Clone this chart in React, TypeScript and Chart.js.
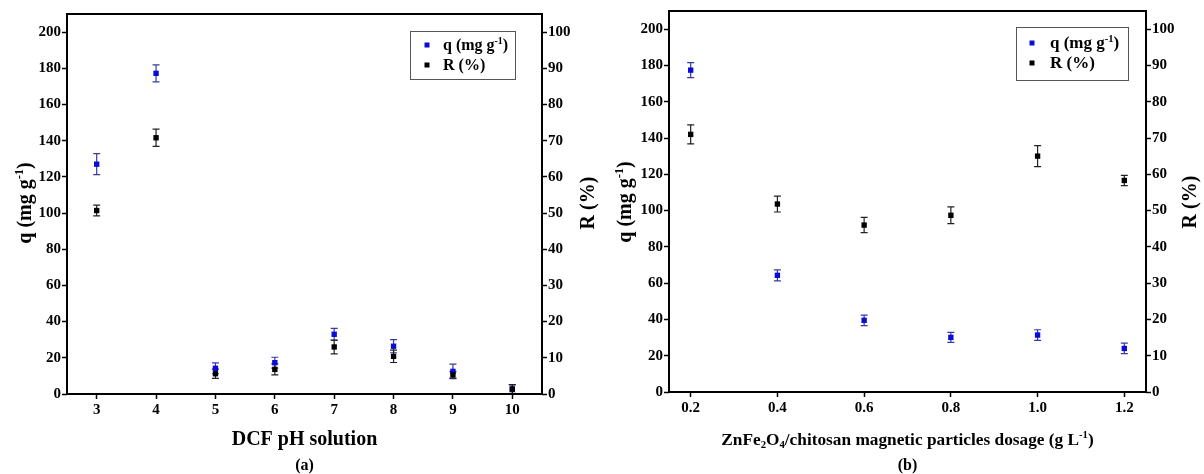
import { useEffect, useRef } from "react";
import { Chart, registerables } from "chart.js";

Chart.register(...registerables);

const FONT = "'Liberation Serif', 'Times New Roman', serif";
const BLUE = "#0b0bd6";
const BLUE_ERR = "#3a3a9e";
const BLACK = "#000000";
const BLACK_ERR = "#222222";

// Panel (a): DCF pH solution
const phValues = [3, 4, 5, 6, 7, 8, 9, 10];
const phQ = [127, 177.2, 14.2, 17.3, 33, 26.4, 12.5, 2.6];
const phQErr = [5.8, 4.7, 3, 3, 3.3, 3.6, 4, 2.4];
const phR = [50.7, 70.8, 5.6, 6.8, 13, 10.4, 5.3, 1.4];
const phRErr = [1.5, 2.4, 1.3, 1.5, 1.9, 1.7, 0.9, 1.2];
const phTicks = [3, 4, 5, 6, 7, 8, 9, 10];

// Panel (b): adsorbent dosage
const doseValues = [0.2, 0.4, 0.6, 0.8, 1.0, 1.2];
const doseQ = [177.4, 64.3, 39.5, 30.1, 31.4, 24];
const doseQErr = [4.1, 3, 2.9, 2.8, 2.9, 2.9];
const doseR = [71, 51.8, 46, 48.7, 65, 58.3];
const doseRErr = [2.6, 2.2, 2.1, 2.3, 2.9, 1.4];
const doseTicks = [0.2, 0.4, 0.6, 0.8, 1.0, 1.2];

// Shared value axes
const qTicks = [0, 20, 40, 60, 80, 100, 120, 140, 160, 180, 200];
const rTicks = [0, 10, 20, 30, 40, 50, 60, 70, 80, 90, 100];

type Seg = { t: string; k?: "sup" | "sub" };

const qTitle: Seg[] = [{ t: "q (mg g" }, { t: "-1", k: "sup" }, { t: ")" }];
const rTitle: Seg[] = [{ t: "R (%)" }];
const phTitle: Seg[] = [{ t: "DCF pH solution" }];
const doseTitle: Seg[] = [
  { t: "ZnFe" },
  { t: "2", k: "sub" },
  { t: "O" },
  { t: "4", k: "sub" },
  { t: "/chitosan magnetic particles dosage (g L" },
  { t: "-1", k: "sup" },
  { t: ")" },
];

const bold = (size: number) => `bold ${size}px ${FONT}`;

// Draws a run of text with super/subscripts, centred horizontally on the anchor.
// `base` is the offset from the anchor to the baseline in the text's own frame.
function drawRich(
  ctx: CanvasRenderingContext2D,
  segs: Seg[],
  cx: number,
  cy: number,
  fs: number,
  rot: number,
  base: number,
  align: "center" | "left" = "center"
) {
  ctx.save();
  ctx.translate(cx, cy);
  ctx.rotate(rot);
  ctx.fillStyle = "#000";
  ctx.textBaseline = "alphabetic";
  ctx.textAlign = "left";
  const sizes = segs.map((s) => (s.k ? fs * 0.62 : fs));
  const widths = segs.map((s, i) => {
    ctx.font = bold(sizes[i]);
    return ctx.measureText(s.t).width;
  });
  const total = widths.reduce((a, b) => a + b, 0);
  let x = align === "center" ? -total / 2 : 0;
  segs.forEach((s, i) => {
    ctx.font = bold(sizes[i]);
    const dy = s.k === "sup" ? -fs * 0.4 : s.k === "sub" ? fs * 0.2 : 0;
    ctx.fillText(s.t, x, base + dy);
    x += widths[i];
  });
  ctx.restore();
}

type PanelSpec = {
  key: string;
  x: number[];
  q: number[];
  qErr: number[];
  r: number[];
  rErr: number[];
  xTicks: number[];
  xMin: number;
  xMax: number;
  xFmt: (v: number) => string;
  width: number;
  top: number;
  leftW: number;
  rightW: number;
  xH: number;
  xTitle: Seg[];
  xTitleSize: number;
  tag: string;
  qTitleX: number;
  rTitleX: number;
  titleY: number;
  legend: { left: number; top: number; w: number; h: number; mx: number; tx: number; rows: number[]; fs: number };
};

function panelPlugin(p: PanelSpec) {
  return {
    id: "panelDecor_" + p.key,
    beforeDatasetsDraw(chart: any) {
      const ctx: CanvasRenderingContext2D = chart.ctx;
      chart.data.datasets.forEach((ds: any) => {
        const ys = chart.scales[ds.yAxisID];
        const xs = chart.scales.x;
        ctx.save();
        ctx.strokeStyle = ds.errorColor;
        ctx.lineWidth = 1.2;
        ds.data.forEach((pt: any, i: number) => {
          const e = ds.errorBars[i];
          const px = xs.getPixelForValue(pt.x);
          const y1 = ys.getPixelForValue(pt.y + e);
          const y2 = ys.getPixelForValue(pt.y - e);
          ctx.beginPath();
          ctx.moveTo(px, y1);
          ctx.lineTo(px, y2);
          ctx.moveTo(px - 3.5, y1);
          ctx.lineTo(px + 3.5, y1);
          ctx.moveTo(px - 3.5, y2);
          ctx.lineTo(px + 3.5, y2);
          ctx.stroke();
        });
        ctx.restore();
      });
    },
    afterDraw(chart: any) {
      const ctx: CanvasRenderingContext2D = chart.ctx;
      const a = chart.chartArea;
      // plot frame
      ctx.save();
      ctx.strokeStyle = "#000";
      ctx.lineWidth = 2;
      ctx.strokeRect(a.left, a.top, a.right - a.left, a.bottom - a.top);
      ctx.restore();

      // legend
      const L = p.legend;
      ctx.save();
      ctx.fillStyle = "#fff";
      ctx.fillRect(L.left, L.top, L.w, L.h);
      ctx.strokeStyle = "#555";
      ctx.lineWidth = 1;
      ctx.strokeRect(L.left + 0.5, L.top + 0.5, L.w, L.h);
      const entries = [chart.data.datasets[0], chart.data.datasets[1]];
      const labels: Seg[][] = [qTitle, rTitle];
      entries.forEach((ds: any, i: number) => {
        const cy = L.top + L.rows[i];
        ctx.fillStyle = ds.backgroundColor;
        ctx.fillRect(L.left + L.mx - 2.5, cy - 2.5, 5, 5);
        drawRich(ctx, labels[i], L.left + L.tx, cy, L.fs, 0, L.fs * 0.32, "left");
      });
      ctx.restore();

      // axis titles
      const cx = (a.left + a.right) / 2;
      drawRich(ctx, qTitle, p.qTitleX, p.titleY, 20, -Math.PI / 2, 20 * 0.32);
      drawRich(ctx, rTitle, p.rTitleX, p.titleY, 20, -Math.PI / 2, 20 * 0.32);
      drawRich(ctx, p.xTitle, cx, 445, p.xTitleSize, 0, 0);
      drawRich(ctx, [{ t: p.tag }], cx, 470, 16, 0, 0);
    },
  };
}

function buildConfig(p: PanelSpec): any {
  const tickFont = { family: FONT, size: 15, weight: "bold" as const };
  const grid = {
    drawOnChartArea: false,
    drawTicks: true,
    tickLength: 5,
    tickWidth: 1.5,
    tickColor: "#000",
  };
  return {
    type: "scatter",
    data: {
      datasets: [
        {
          label: "q (mg g-1)",
          data: p.x.map((v, i) => ({ x: v, y: p.q[i] })),
          yAxisID: "y",
          pointStyle: "rect",
          pointRadius: 3.8,
          backgroundColor: BLUE,
          borderColor: BLUE,
          borderWidth: 0,
          errorBars: p.qErr,
          errorColor: BLUE_ERR,
          order: 1,
        },
        {
          label: "R (%)",
          data: p.x.map((v, i) => ({ x: v, y: p.r[i] })),
          yAxisID: "y2",
          pointStyle: "rect",
          pointRadius: 3.8,
          backgroundColor: BLACK,
          borderColor: BLACK,
          borderWidth: 0,
          errorBars: p.rErr,
          errorColor: BLACK_ERR,
          order: 0,
        },
      ],
    },
    options: {
      animation: false,
      responsive: false,
      maintainAspectRatio: false,
      layout: { padding: { top: p.top, left: 0, right: 0, bottom: 0 } },
      plugins: { legend: { display: false }, tooltip: { enabled: false } },
      scales: {
        x: {
          type: "linear",
          position: "bottom",
          min: p.xMin,
          max: p.xMax,
          afterBuildTicks: (s: any) => {
            s.ticks = p.xTicks.map((v) => ({ value: v }));
          },
          afterFit: (s: any) => {
            s.height = p.xH;
          },
          ticks: {
            callback: (v: any) => p.xFmt(Number(v)),
            font: tickFont,
            color: "#000",
            padding: 2,
            maxRotation: 0,
            autoSkip: false,
          },
          grid,
          border: { display: false },
        },
        y: {
          type: "linear",
          position: "left",
          min: 0,
          max: 210,
          afterBuildTicks: (s: any) => {
            s.ticks = qTicks.map((v) => ({ value: v }));
          },
          afterFit: (s: any) => {
            s.width = p.leftW;
          },
          ticks: { font: tickFont, color: "#000", padding: 1, autoSkip: false },
          grid,
          border: { display: false },
        },
        y2: {
          type: "linear",
          position: "right",
          min: 0,
          max: 105,
          afterBuildTicks: (s: any) => {
            s.ticks = rTicks.map((v) => ({ value: v }));
          },
          afterFit: (s: any) => {
            s.width = p.rightW;
          },
          ticks: { font: tickFont, color: "#000", padding: 1, autoSkip: false },
          grid,
          border: { display: false },
        },
      },
    },
    plugins: [panelPlugin(p)],
  };
}

const panelA: PanelSpec = {
  key: "a",
  x: phValues,
  q: phQ,
  qErr: phQErr,
  r: phR,
  rErr: phRErr,
  xTicks: phTicks,
  xMin: 2.5,
  xMax: 10.5,
  xFmt: (v) => String(v),
  width: 604,
  top: 14,
  leftW: 67,
  rightW: 62,
  xH: 80,
  xTitle: phTitle,
  xTitleSize: 20,
  tag: "(a)",
  qTitleX: 25,
  rTitleX: 588,
  titleY: 203,
  legend: { left: 410, top: 31, w: 105, h: 48, mx: 17, tx: 33, rows: [14, 34], fs: 16 },
};

const panelB: PanelSpec = {
  key: "b",
  x: doseValues,
  q: doseQ,
  qErr: doseQErr,
  r: doseR,
  rErr: doseRErr,
  xTicks: doseTicks,
  xMin: 0.15,
  xMax: 1.25,
  xFmt: (v) => v.toFixed(1),
  width: 600,
  top: 11,
  leftW: 65,
  rightW: 58,
  xH: 82,
  xTitle: doseTitle,
  xTitleSize: 17.3,
  tag: "(b)",
  qTitleX: 21,
  rTitleX: 586,
  titleY: 202,
  legend: { left: 412, top: 27, w: 112, h: 53, mx: 16, tx: 34, rows: [16, 36], fs: 17 },
};

function Panel({ spec, left }: { spec: PanelSpec; left: number }) {
  const ref = useRef<HTMLCanvasElement | null>(null);
  useEffect(() => {
    if (!ref.current) return;
    const chart = new Chart(ref.current, buildConfig(spec));
    return () => chart.destroy();
  }, [spec]);
  return (
    <canvas
      ref={ref}
      width={spec.width}
      height={474}
      style={{ position: "absolute", left, top: 0, width: spec.width, height: 474 }}
    />
  );
}

export default function App() {
  return (
    <div
      style={{
        position: "absolute",
        left: 0,
        top: 0,
        width: 1204,
        height: 474,
        background: "#fff",
        overflow: "hidden",
      }}
    >
      <Panel spec={panelA} left={0} />
      <Panel spec={panelB} left={604} />
    </div>
  );
}
